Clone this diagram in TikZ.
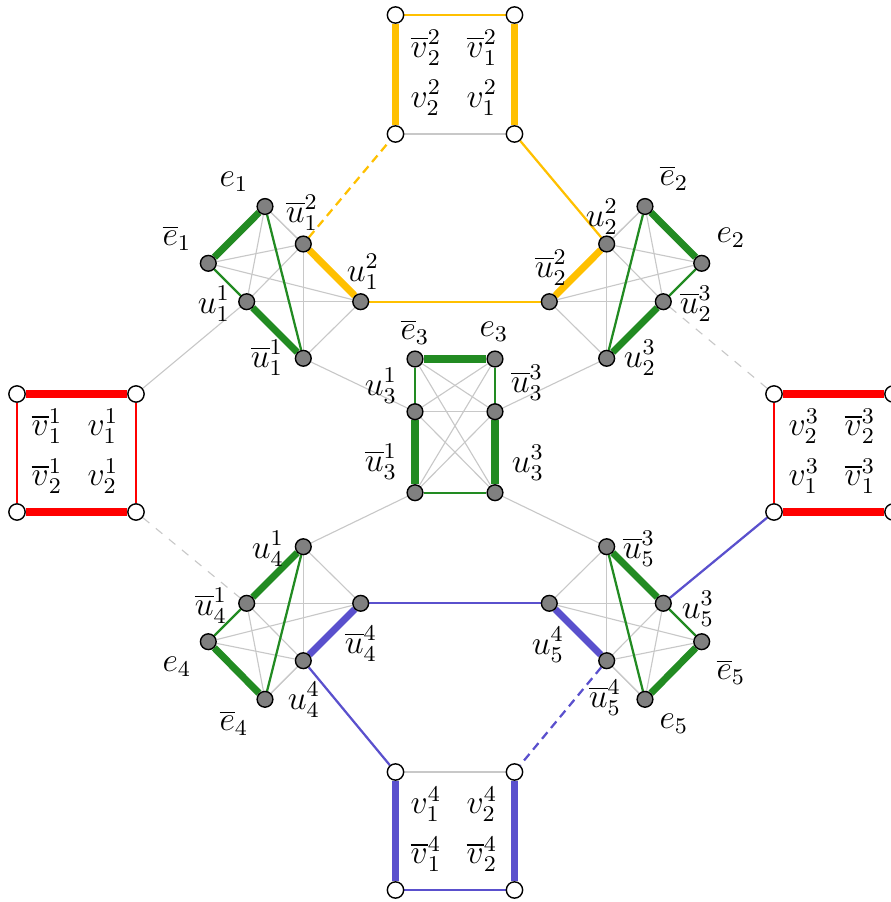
\documentclass[tikz,border=0pt]{standalone}
\usetikzlibrary{backgrounds}
\definecolor{cyel}{RGB}{255,192,0}
\definecolor{cred}{RGB}{255,0,0}
\definecolor{cgrn}{RGB}{34,139,34}
\definecolor{cblu}{RGB}{90,80,205}
\definecolor{cgry}{RGB}{200,200,200}
\begin{document}
\begin{tikzpicture}[x=0.0125cm,y=-0.0125cm,
  vtx/.style={circle,draw=black,fill=gray,line width=0.5pt,minimum size=5.6pt,inner sep=0pt},
  wvtx/.style={circle,draw=black,fill=white,line width=0.5pt,minimum size=5.8pt,inner sep=0pt},
  lbl/.style={inner sep=0pt,font=\large},
  sq/.style={inner sep=0pt,anchor=base,font=\large},
  glin/.style={cgry,line width=0.4pt},
  gdash/.style={cgry,line width=0.4pt,dash pattern=on 3pt off 3pt},
  tgrn/.style={cgrn,line width=0.8pt},
  kgrn/.style={cgrn,line width=2.5pt},
  tyel/.style={cyel,line width=0.8pt},
  kyel/.style={cyel,line width=2.5pt},
  ydash/.style={cyel,line width=0.8pt,dash pattern=on 3pt off 2pt},
  tred/.style={cred,line width=0.8pt},
  kred/.style={cred,line width=2.5pt},
  tblu/.style={cblu,line width=0.8pt},
  kblu/.style={cblu,line width=2.5pt},
  bdash/.style={cblu,line width=0.8pt,dash pattern=on 3pt off 2pt}]
\useasboundingbox (0,0) rectangle (891,902);

% ---------- squares ----------
\node[wvtx] (s2tl) at (395.5,15) {};
\node[wvtx] (s2tr) at (514.5,15) {};
\node[wvtx] (s2bl) at (395.5,134) {};
\node[wvtx] (s2br) at (514.5,134) {};
\node[wvtx] (s1tl) at (17,394) {};
\node[wvtx] (s1tr) at (136,394) {};
\node[wvtx] (s1bl) at (17,512) {};
\node[wvtx] (s1br) at (136,512) {};
\node[wvtx] (s3tl) at (774,394) {};
\node[wvtx] (s3tr) at (893,394) {};
\node[wvtx] (s3bl) at (774,512) {};
\node[wvtx] (s3br) at (893,512) {};
\node[wvtx] (s4tl) at (395.5,772) {};
\node[wvtx] (s4tr) at (514.5,772) {};
\node[wvtx] (s4bl) at (395.5,890) {};
\node[wvtx] (s4br) at (514.5,890) {};

% square labels
\node[sq] (t1) at (426,57) {$\overline{v}_2^2$};
\node[sq] (t2) at (482,57) {$\overline{v}_1^2$};
\node[sq] (t3) at (426,107) {$v_2^2$};
\node[sq] (t4) at (482,107) {$v_1^2$};
\node[sq] (l1) at (47,435.5) {$\overline{v}_1^1$};
\node[sq] (l2) at (103,435.5) {$v_1^1$};
\node[sq] (l3) at (47,485.5) {$\overline{v}_2^1$};
\node[sq] (l4) at (103,485.5) {$v_2^1$};
\node[sq] (r1) at (804,435.5) {$v_2^3$};
\node[sq] (r2) at (860,435.5) {$\overline{v}_2^3$};
\node[sq] (r3) at (804,485.5) {$v_1^3$};
\node[sq] (r4) at (860,485.5) {$\overline{v}_1^3$};
\node[sq] (b1) at (426,813.5) {$v_1^4$};
\node[sq] (b2) at (482,813.5) {$v_2^4$};
\node[sq] (b3) at (426,863.5) {$\overline{v}_1^4$};
\node[sq] (b4) at (482,863.5) {$\overline{v}_2^4$};

% ---------- cluster 1 ----------
\node[vtx] (c11) at (265,206.5) {};
\node[vtx] (c12) at (208.3,263.3) {};
\node[vtx] (c13) at (246.7,301.7) {};
\node[vtx] (c14) at (303.3,358.3) {};
\node[vtx] (c15) at (303.3,244) {};
\node[vtx] (c16) at (360.7,301.7) {};
% ---------- cluster 2 ----------
\node[vtx] (c21) at (645,206.5) {};
\node[vtx] (c22) at (701.7,263.3) {};
\node[vtx] (c23) at (663.3,301.7) {};
\node[vtx] (c24) at (606.7,358.3) {};
\node[vtx] (c25) at (606.7,244) {};
\node[vtx] (c26) at (549.3,301.7) {};
% ---------- cluster 3 ----------
\node[vtx] (c31) at (415,359) {};
\node[vtx] (c32) at (495,359) {};
\node[vtx] (c33) at (415,411.7) {};
\node[vtx] (c34) at (495,411.7) {};
\node[vtx] (c35) at (415,492.7) {};
\node[vtx] (c36) at (495,492.7) {};
% ---------- cluster 4 ----------
\node[vtx] (c41) at (303.3,546.7) {};
\node[vtx] (c42) at (246.7,603.3) {};
\node[vtx] (c43) at (208.3,641.7) {};
\node[vtx] (c44) at (265,699.3) {};
\node[vtx] (c45) at (303.3,660.7) {};
\node[vtx] (c46) at (360.7,603.3) {};
% ---------- cluster 5 ----------
\node[vtx] (c51) at (606.7,546.7) {};
\node[vtx] (c52) at (549.3,603.3) {};
\node[vtx] (c53) at (606.7,660.7) {};
\node[vtx] (c54) at (645,699.3) {};
\node[vtx] (c55) at (701.7,641.7) {};
\node[vtx] (c56) at (663.3,603.3) {};

% ---------- vertex labels ----------
\node[lbl] (n11) at (234,182) {$e_1$};
\node[lbl] (n12) at (177,238) {$\overline{e}_1$};
\node[lbl] (n13) at (214,304) {$u_1^1$};
\node[lbl] (n14) at (267,358) {$\overline{u}_1^1$};
\node[lbl] (n15) at (302,213) {$\overline{u}_1^2$};
\node[lbl] (n16) at (363,272) {$u_1^2$};
\node[lbl] (n21) at (674,178) {$\overline{e}_2$};
\node[lbl] (n22) at (731,238) {$e_2$};
\node[lbl] (n23) at (696,304) {$\overline{u}_2^3$};
\node[lbl] (n24) at (640,358) {$u_2^3$};
\node[lbl] (n25) at (602,217) {$u_2^2$};
\node[lbl] (n26) at (551,268) {$\overline{u}_2^2$};
\node[lbl] (n31) at (415,332) {$\overline{e}_3$};
\node[lbl] (n32) at (494,332) {$e_3$};
\node[lbl] (n33) at (381,386) {$u_3^1$};
\node[lbl] (n34) at (527,383) {$\overline{u}_3^3$};
\node[lbl] (n35) at (381,462) {$\overline{u}_3^1$};
\node[lbl] (n36) at (528,463) {$u_3^3$};
\node[lbl] (n41) at (268,549) {$u_4^1$};
\node[lbl] (n42) at (211,606) {$\overline{u}_4^1$};
\node[lbl] (n43) at (177,667) {$e_4$};
\node[lbl] (n44) at (234,723) {$\overline{e}_4$};
\node[lbl] (n45) at (304,700) {$u_4^4$};
\node[lbl] (n46) at (361,644) {$\overline{u}_4^4$};
\node[lbl] (n51) at (639,549) {$\overline{u}_5^3$};
\node[lbl] (n52) at (548,645) {$u_5^4$};
\node[lbl] (n53) at (605,698) {$\overline{u}_5^4$};
\node[lbl] (n54) at (674,724) {$e_5$};
\node[lbl] (n55) at (731,672) {$\overline{e}_5$};
\node[lbl] (n56) at (698,609) {$u_5^3$};

\begin{scope}[on background layer]
% gray complete graphs
\foreach \k in {1,...,5}{
  \foreach \i/\j in {1/2,1/3,1/4,1/5,1/6,2/3,2/4,2/5,2/6,3/4,3/5,3/6,4/5,4/6,5/6}
    \draw[glin] (c\k\i) -- (c\k\j);
}
% cluster colored edges
\draw[kgrn] (c11) -- (c12);
\draw[tgrn] (c12) -- (c13);
\draw[kgrn] (c13) -- (c14);
\draw[tgrn] (c11) -- (c14);
\draw[kyel] (c15) -- (c16);

\draw[kgrn] (c21) -- (c22);
\draw[tgrn] (c22) -- (c23);
\draw[kgrn] (c23) -- (c24);
\draw[tgrn] (c21) -- (c24);
\draw[kyel] (c25) -- (c26);

\draw[kgrn] (c31) -- (c32);
\draw[tgrn] (c31) -- (c33);
\draw[tgrn] (c32) -- (c34);
\draw[kgrn] (c33) -- (c35);
\draw[kgrn] (c34) -- (c36);
\draw[tgrn] (c35) -- (c36);

\draw[kgrn] (c41) -- (c42);
\draw[tgrn] (c42) -- (c43);
\draw[kgrn] (c43) -- (c44);
\draw[tgrn] (c41) -- (c44);
\draw[kblu] (c45) -- (c46);

\draw[kgrn] (c51) -- (c56);
\draw[tgrn] (c56) -- (c55);
\draw[kgrn] (c55) -- (c54);
\draw[tgrn] (c51) -- (c54);
\draw[kblu] (c52) -- (c53);

% squares
\draw[kyel] (s2tl) -- (s2bl);
\draw[kyel] (s2tr) -- (s2br);
\draw[tyel] (s2tl) -- (s2tr);
\draw[glin] (s2bl) -- (s2br);

\draw[kred] (s1tl) -- (s1tr);
\draw[kred] (s1bl) -- (s1br);
\draw[tred] (s1tl) -- (s1bl);
\draw[tred] (s1tr) -- (s1br);

\draw[kred] (s3tl) -- (s3tr);
\draw[kred] (s3bl) -- (s3br);
\draw[tred] (s3tl) -- (s3bl);
\draw[tred] (s3tr) -- (s3br);

\draw[kblu] (s4tl) -- (s4bl);
\draw[kblu] (s4tr) -- (s4br);
\draw[tblu] (s4bl) -- (s4br);
\draw[glin] (s4tl) -- (s4tr);

% connectors between groups
\draw[ydash] (c15) -- (s2bl);
\draw[tyel] (c16) -- (c26);
\draw[tyel] (c25) -- (s2br);
\draw[glin] (c13) -- (s1tr);
\draw[glin] (c14) -- (c33);
\draw[glin] (c24) -- (c34);
\draw[gdash] (c23) -- (s3tl);
\draw[gdash] (s1br) -- (c42);
\draw[glin] (c35) -- (c41);
\draw[glin] (c36) -- (c51);
\draw[tblu] (c46) -- (c52);
\draw[tblu] (c45) -- (s4tl);
\draw[bdash] (c53) -- (s4tr);
\draw[tblu] (c56) -- (s3bl);
\end{scope}
\end{tikzpicture}
\end{document}
